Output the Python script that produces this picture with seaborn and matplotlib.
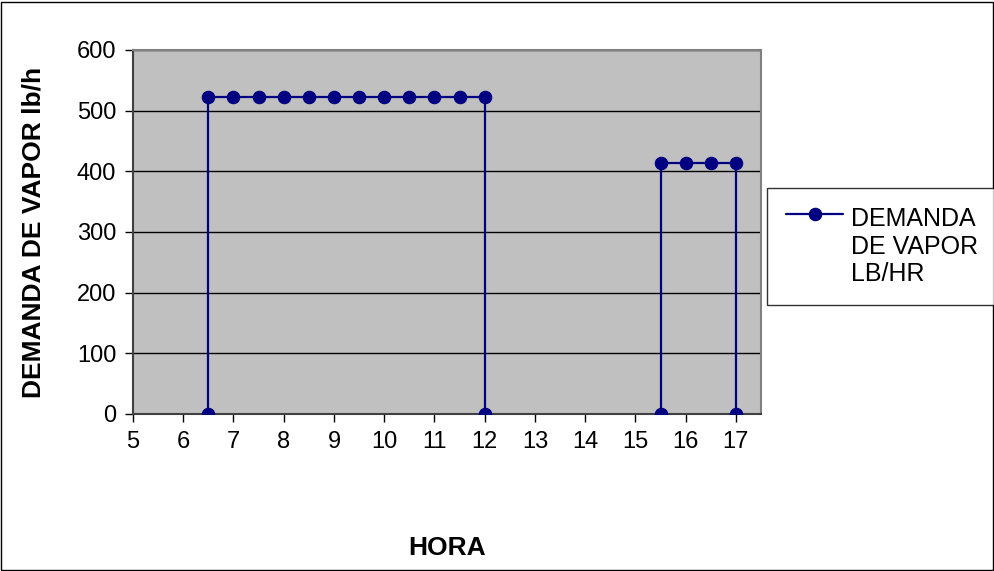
import matplotlib
matplotlib.use("Agg")
import matplotlib.pyplot as plt
import seaborn as sns
import pandas as pd
from matplotlib.legend_handler import HandlerLine2D

# datos
hora_manana = [6.5, 6.5, 7, 7.5, 8, 8.5, 9, 9.5, 10, 10.5, 11, 11.5, 12, 12]
demanda_manana = [0, 522, 522, 522, 522, 522, 522, 522, 522, 522, 522, 522, 522, 0]
hora_tarde = [15.5, 15.5, 16, 16.5, 17, 17]
demanda_tarde = [0, 414, 414, 414, 414, 0]

x_ticks = list(range(5, 18))
y_ticks = [0, 100, 200, 300, 400, 500, 600]
serie = 'DEMANDA\nDE VAPOR\nLB/HR'

df = pd.DataFrame({
    'hora': hora_manana + hora_tarde,
    'demanda': demanda_manana + demanda_tarde,
    'tramo': [1] * len(hora_manana) + [2] * len(hora_tarde),
})


class HandlerPrimeraLinea(HandlerLine2D):
    # pone el simbolo de la leyenda a la altura de la primera linea del texto
    def create_artists(self, legend, orig_handle, xdescent, ydescent, width, height,
                       fontsize, trans):
        return super().create_artists(legend, orig_handle, xdescent, ydescent - 2.7 * fontsize,
                                      width, height, fontsize, trans)


sns.set_style('white')
plt.rcParams['font.family'] = ['Liberation Sans', 'DejaVu Sans']
plt.rcParams['text.color'] = 'black'
plt.rcParams['xtick.color'] = 'black'
plt.rcParams['ytick.color'] = 'black'
plt.rcParams['axes.labelcolor'] = 'black'

W, H = 995, 571
fig = plt.figure(figsize=(W / 100, H / 100), dpi=100)
ax = fig.add_axes([133 / W, (H - 414) / H, (761 - 133) / W, (414 - 50) / H])
ax.set_facecolor('#c0c0c0')

for y in y_ticks[1:]:
    ax.axhline(y, color='black', linewidth=1, zorder=1)

sns.lineplot(data=df, x='hora', y='demanda', units='tramo', estimator=None, sort=False,
             color='#000080', linewidth=1.6, marker='o', markersize=9,
             markeredgecolor='#000080', ax=ax, zorder=3, label=serie)

ax.set_xlim(5, 17.5)
ax.set_ylim(0, 600)
ax.set_xticks(x_ticks)
ax.set_yticks(y_ticks)
ax.tick_params(axis='both', direction='out', length=6, width=1, color='black',
               labelcolor='black', labelsize=17, pad=6, left=True, bottom=True)

for s in ['top', 'right']:
    ax.spines[s].set_color('#808080')
    ax.spines[s].set_linewidth(1.5)
for s in ['left', 'bottom']:
    ax.spines[s].set_color('#404040')
    ax.spines[s].set_linewidth(1.5)

ax.set_xlabel('HORA', fontsize=19, fontweight='bold', color='black')
ax.xaxis.set_label_coords(0.5, -(548 - 414) / 364)
ax.xaxis.label.set_va('center')
ax.set_ylabel('DEMANDA DE VAPOR lb/h', fontsize=19, fontweight='bold', color='black')
ax.yaxis.set_label_coords(-(133 - 33) / 628, 0.5)
ax.yaxis.label.set_va('center')

ax.get_legend().remove()
handles, labels = ax.get_legend_handles_labels()
leg = fig.legend(handles[:1], labels[:1], loc='upper left',
                 bbox_to_anchor=(767 / W, 1 - 188 / H),
                 fontsize=18, frameon=True, fancybox=False,
                 edgecolor='black', handlelength=2.3, handletextpad=0.3,
                 borderpad=0.75, borderaxespad=0, labelspacing=0.2,
                 handler_map={handles[0]: HandlerPrimeraLinea()})
leg.get_frame().set_linewidth(1)
for t in leg.get_texts():
    t.set_color('black')

fig.patches.append(plt.Rectangle((1 / W, 1 / H), (W - 3) / W, (H - 3) / H,
                                 transform=fig.transFigure, fill=False,
                                 edgecolor='black', linewidth=1))

fig.savefig('out.png', dpi=100)
